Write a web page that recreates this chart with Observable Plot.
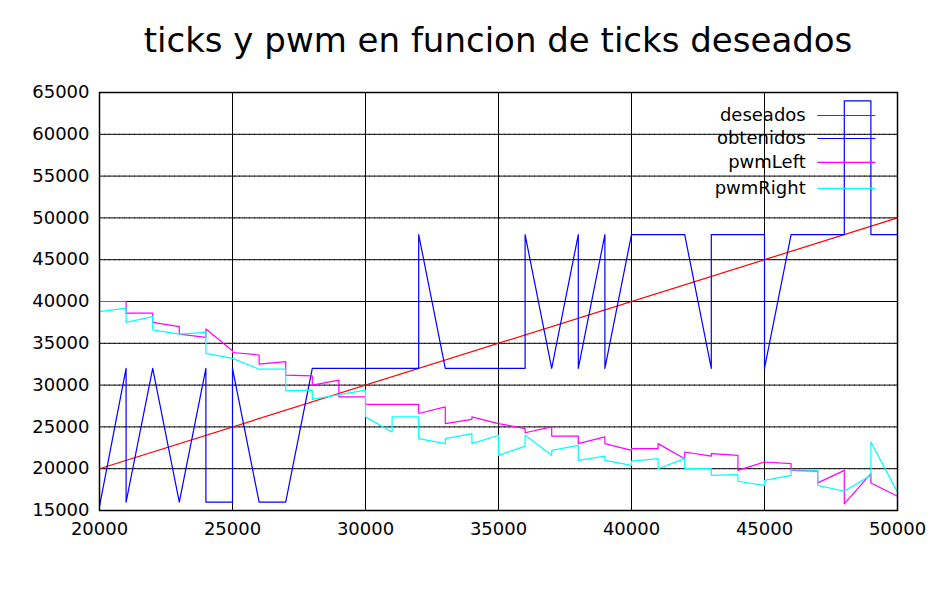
<!DOCTYPE html>
<html><head><meta charset="utf-8">
<script src="https://cdn.jsdelivr.net/npm/d3@7"></script>
<script src="https://cdn.jsdelivr.net/npm/@observablehq/plot@0.6"></script>
<style>
body{margin:0;background:#fff;font-family:"DejaVu Sans",sans-serif}
#title{height:80px;line-height:80px;text-align:center;font-size:34px;width:932px;padding-left:64px;box-sizing:border-box}
</style></head><body>
<div id="title">ticks y pwm en funcion de ticks deseados</div>
<div id="chart"></div>
<script>
const deseadosX = [20000, 50000]
const deseadosY = [20000, 50000]
const obtenidosX = [20000,21000,21000,22000,23000,24000,24000,25000,25000,26000,27000,28000,32000,32000,33000,36000,36000,37000,38000,38000,39000,39000,40000,42000,43000,43000,45000,45000,46000,48000,48000,49000,49000,50000]
const obtenidosY = [15500,32000,16000,32000,16000,32000,16000,16000,32000,16000,16000,32000,32000,48000,32000,32000,48000,32000,48000,32000,48000,32000,48000,48000,32000,48000,48000,32000,48000,48000,64000,64000,48000,48000]
const leftX = [20000,21000,21000,22000,22000,23000,23000,24000,24000,25000,25000,26000,26000,27000,27000,28000,28000,29000,29000,30000,30000,31000,32000,32000,33000,33000,34000,34000,35000,36000,36000,37000,37000,38000,38000,39000,39000,40000,40000,41000,41000,42000,42000,43000,43000,44000,44000,45000,46000,46000,47000,47000,48000,48000,49000,49000,50000]
const leftY = [40000,40000,38600,38600,37500,37000,36100,35700,36700,34100,33900,33600,32500,32800,31200,31100,30000,30600,28600,28600,27700,27700,27700,26600,27400,25400,25900,26200,25400,24800,24300,25000,23900,23900,23000,23800,23000,22200,22400,22400,23000,21200,22000,21500,21800,21600,19800,20800,20600,19800,19700,18300,19800,15800,19400,18300,16700]
const rightX = [20000,21000,21000,22000,22000,23000,24000,24000,25000,26000,27000,27000,28000,28000,30000,30000,31000,31000,32000,32000,33000,33000,34000,34000,35000,35000,36000,36000,37000,37000,38000,38000,39000,39000,40000,40000,41000,41000,42000,42000,43000,43000,44000,44000,45000,45000,46000,46000,47000,47000,48000,49000,49000,50000]
const rightY = [38800,39200,37500,38200,36600,36100,36300,33800,33200,31900,31900,29300,29400,28300,29400,26200,24400,26200,26200,23600,23000,23600,24200,23000,24000,21600,22700,24000,21600,22200,22800,21000,21500,21000,20400,20900,21200,20000,21200,20000,20000,19200,19300,18500,18000,18600,19200,19900,19800,18000,17300,19200,23200,17200]
const names = ['deseados','obtenidos','pwmLeft','pwmRight']
const colors = ['#ff0000','#0000ff','#ff00ff','#00ffff']
const legendY = [62250, 59500, 56630, 53520]

const series = [[deseadosX,deseadosY],[obtenidosX,obtenidosY],[leftX,leftY],[rightX,rightY]]
const rows = series.flatMap(([xs, ys], i) => xs.map((x, j) => ({x, y: ys[j], s: names[i]})))
const leg = names.flatMap((n, i) => [{x: 47000, y: legendY[i], s: n}, {x: 49150, y: legendY[i], s: n}])
const color = {domain: names, range: colors}
const dotted = {stroke: 'black', strokeOpacity: 0.8, strokeDasharray: '1,4'}

const chart = Plot.plot({
  width: 932, height: 520,
  marginLeft: 99, marginRight: 35, marginTop: 12, marginBottom: 90,
  style: {fontFamily: 'DejaVu Sans, sans-serif', fontSize: '18px', color: 'black'},
  x: {domain: [20000, 50000], ticks: d3.range(20000, 50001, 5000), tickFormat: d => String(d), tickSize: 0, tickPadding: 12, label: null},
  y: {domain: [15000, 65000], ticks: d3.range(15000, 65001, 5000), tickFormat: d => String(d), tickSize: 0, tickPadding: 10, label: null},
  color,
  marks: [
    Plot.ruleX(d3.range(25000, 50000, 5000), dotted),
    Plot.ruleY(d3.range(20000, 65000, 5000), dotted),
    Plot.tickX(d3.range(25000, 50000, 5000), {y1: 15000, y2: 15600, stroke: 'black'}),
    Plot.tickY(d3.range(20000, 65000, 5000), {x1: 20000, x2: 20350, stroke: 'black'}),
    Plot.line(rows, {x: 'x', y: 'y', z: 's', stroke: 's', strokeWidth: 1.2}),
    Plot.line(leg, {x: 'x', y: 'y', z: 's', stroke: 's', strokeWidth: 1.2}),
    Plot.text(names.map((n, i) => ({n, y: legendY[i]})), {x: 46550, y: 'y', text: 'n', textAnchor: 'end', fontSize: 18}),
    Plot.frame({stroke: 'black', strokeWidth: 1.5})
  ]
})
document.getElementById('chart').append(chart)
</script>
</body></html>
